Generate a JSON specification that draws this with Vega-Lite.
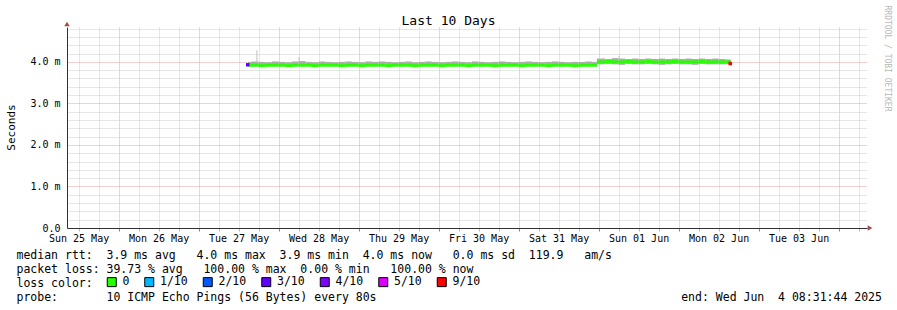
{
  "$schema": "https://vega.github.io/schema/vega-lite/v6.json",
  "width": 800,
  "height": 201,
  "autosize": {"type": "none"},
  "padding": {"left": 67, "top": 27, "right": 30, "bottom": 82},
  "background": "white",
  "config": {"view": {"stroke": null}},
  "datasets": {
    "rtt": [
      {"t": "2025-05-27T14:50:00Z", "t_end": "2025-05-27T16:00:00Z", "med": 3.92, "lo": 3.90, "hi": 4.00, "loss": "0"},
      {"t": "2025-05-27T16:00:00Z", "t_end": "2025-05-27T18:00:00Z", "med": 3.92, "lo": 3.90, "hi": 4.01, "loss": "0"},
      {"t": "2025-05-27T18:00:00Z", "t_end": "2025-05-27T20:00:00Z", "med": 3.91, "lo": 3.89, "hi": 4.00, "loss": "0"},
      {"t": "2025-05-27T20:00:00Z", "t_end": "2025-05-27T22:00:00Z", "med": 3.92, "lo": 3.90, "hi": 3.99, "loss": "0"},
      {"t": "2025-05-27T22:00:00Z", "t_end": "2025-05-28T00:00:00Z", "med": 3.92, "lo": 3.90, "hi": 4.01, "loss": "0"},
      {"t": "2025-05-28T00:00:00Z", "t_end": "2025-05-28T02:00:00Z", "med": 3.92, "lo": 3.90, "hi": 4.00, "loss": "0"},
      {"t": "2025-05-28T02:00:00Z", "t_end": "2025-05-28T04:00:00Z", "med": 3.91, "lo": 3.89, "hi": 3.99, "loss": "0"},
      {"t": "2025-05-28T04:00:00Z", "t_end": "2025-05-28T06:00:00Z", "med": 3.92, "lo": 3.90, "hi": 4.01, "loss": "0"},
      {"t": "2025-05-28T06:00:00Z", "t_end": "2025-05-28T08:00:00Z", "med": 3.92, "lo": 3.90, "hi": 4.02, "loss": "0"},
      {"t": "2025-05-28T08:00:00Z", "t_end": "2025-05-28T10:00:00Z", "med": 3.92, "lo": 3.90, "hi": 4.00, "loss": "0"},
      {"t": "2025-05-28T10:00:00Z", "t_end": "2025-05-28T12:00:00Z", "med": 3.91, "lo": 3.89, "hi": 3.99, "loss": "0"},
      {"t": "2025-05-28T12:00:00Z", "t_end": "2025-05-28T14:00:00Z", "med": 3.92, "lo": 3.90, "hi": 4.01, "loss": "0"},
      {"t": "2025-05-28T14:00:00Z", "t_end": "2025-05-28T16:00:00Z", "med": 3.92, "lo": 3.90, "hi": 4.00, "loss": "0"},
      {"t": "2025-05-28T16:00:00Z", "t_end": "2025-05-28T18:00:00Z", "med": 3.92, "lo": 3.90, "hi": 3.99, "loss": "0"},
      {"t": "2025-05-28T18:00:00Z", "t_end": "2025-05-28T20:00:00Z", "med": 3.91, "lo": 3.89, "hi": 4.00, "loss": "0"},
      {"t": "2025-05-28T20:00:00Z", "t_end": "2025-05-28T22:00:00Z", "med": 3.92, "lo": 3.90, "hi": 4.01, "loss": "0"},
      {"t": "2025-05-28T22:00:00Z", "t_end": "2025-05-29T00:00:00Z", "med": 3.92, "lo": 3.90, "hi": 4.00, "loss": "0"},
      {"t": "2025-05-29T00:00:00Z", "t_end": "2025-05-29T02:00:00Z", "med": 3.91, "lo": 3.89, "hi": 3.99, "loss": "0"},
      {"t": "2025-05-29T02:00:00Z", "t_end": "2025-05-29T04:00:00Z", "med": 3.92, "lo": 3.90, "hi": 4.01, "loss": "0"},
      {"t": "2025-05-29T04:00:00Z", "t_end": "2025-05-29T06:00:00Z", "med": 3.92, "lo": 3.90, "hi": 4.00, "loss": "0"},
      {"t": "2025-05-29T06:00:00Z", "t_end": "2025-05-29T08:00:00Z", "med": 3.92, "lo": 3.90, "hi": 4.01, "loss": "0"},
      {"t": "2025-05-29T08:00:00Z", "t_end": "2025-05-29T10:00:00Z", "med": 3.91, "lo": 3.89, "hi": 4.00, "loss": "0"},
      {"t": "2025-05-29T10:00:00Z", "t_end": "2025-05-29T12:00:00Z", "med": 3.92, "lo": 3.90, "hi": 3.99, "loss": "0"},
      {"t": "2025-05-29T12:00:00Z", "t_end": "2025-05-29T14:00:00Z", "med": 3.92, "lo": 3.90, "hi": 4.00, "loss": "0"},
      {"t": "2025-05-29T14:00:00Z", "t_end": "2025-05-29T16:00:00Z", "med": 3.92, "lo": 3.90, "hi": 4.01, "loss": "0"},
      {"t": "2025-05-29T16:00:00Z", "t_end": "2025-05-29T18:00:00Z", "med": 3.91, "lo": 3.89, "hi": 3.99, "loss": "0"},
      {"t": "2025-05-29T18:00:00Z", "t_end": "2025-05-29T20:00:00Z", "med": 3.92, "lo": 3.90, "hi": 4.00, "loss": "0"},
      {"t": "2025-05-29T20:00:00Z", "t_end": "2025-05-29T22:00:00Z", "med": 3.92, "lo": 3.90, "hi": 4.01, "loss": "0"},
      {"t": "2025-05-29T22:00:00Z", "t_end": "2025-05-30T00:00:00Z", "med": 3.92, "lo": 3.90, "hi": 4.00, "loss": "0"},
      {"t": "2025-05-30T00:00:00Z", "t_end": "2025-05-30T02:00:00Z", "med": 3.91, "lo": 3.89, "hi": 3.99, "loss": "0"},
      {"t": "2025-05-30T02:00:00Z", "t_end": "2025-05-30T04:00:00Z", "med": 3.92, "lo": 3.90, "hi": 4.00, "loss": "0"},
      {"t": "2025-05-30T04:00:00Z", "t_end": "2025-05-30T06:00:00Z", "med": 3.92, "lo": 3.90, "hi": 4.01, "loss": "0"},
      {"t": "2025-05-30T06:00:00Z", "t_end": "2025-05-30T08:00:00Z", "med": 3.92, "lo": 3.90, "hi": 4.00, "loss": "0"},
      {"t": "2025-05-30T08:00:00Z", "t_end": "2025-05-30T10:00:00Z", "med": 3.91, "lo": 3.89, "hi": 3.99, "loss": "0"},
      {"t": "2025-05-30T10:00:00Z", "t_end": "2025-05-30T12:00:00Z", "med": 3.92, "lo": 3.90, "hi": 4.01, "loss": "0"},
      {"t": "2025-05-30T12:00:00Z", "t_end": "2025-05-30T14:00:00Z", "med": 3.92, "lo": 3.90, "hi": 4.00, "loss": "0"},
      {"t": "2025-05-30T14:00:00Z", "t_end": "2025-05-30T16:00:00Z", "med": 3.92, "lo": 3.90, "hi": 3.99, "loss": "0"},
      {"t": "2025-05-30T16:00:00Z", "t_end": "2025-05-30T18:00:00Z", "med": 3.91, "lo": 3.89, "hi": 4.00, "loss": "0"},
      {"t": "2025-05-30T18:00:00Z", "t_end": "2025-05-30T20:00:00Z", "med": 3.92, "lo": 3.90, "hi": 4.01, "loss": "0"},
      {"t": "2025-05-30T20:00:00Z", "t_end": "2025-05-30T22:00:00Z", "med": 3.92, "lo": 3.90, "hi": 4.00, "loss": "0"},
      {"t": "2025-05-30T22:00:00Z", "t_end": "2025-05-31T00:00:00Z", "med": 3.92, "lo": 3.90, "hi": 3.99, "loss": "0"},
      {"t": "2025-05-31T00:00:00Z", "t_end": "2025-05-31T02:00:00Z", "med": 3.91, "lo": 3.89, "hi": 4.00, "loss": "0"},
      {"t": "2025-05-31T02:00:00Z", "t_end": "2025-05-31T04:00:00Z", "med": 3.92, "lo": 3.90, "hi": 4.01, "loss": "0"},
      {"t": "2025-05-31T04:00:00Z", "t_end": "2025-05-31T06:00:00Z", "med": 3.92, "lo": 3.90, "hi": 4.00, "loss": "0"},
      {"t": "2025-05-31T06:00:00Z", "t_end": "2025-05-31T08:00:00Z", "med": 3.92, "lo": 3.90, "hi": 3.99, "loss": "0"},
      {"t": "2025-05-31T08:00:00Z", "t_end": "2025-05-31T10:00:00Z", "med": 3.91, "lo": 3.89, "hi": 4.00, "loss": "0"},
      {"t": "2025-05-31T10:00:00Z", "t_end": "2025-05-31T12:00:00Z", "med": 3.92, "lo": 3.90, "hi": 4.01, "loss": "0"},
      {"t": "2025-05-31T12:00:00Z", "t_end": "2025-05-31T14:00:00Z", "med": 3.92, "lo": 3.90, "hi": 4.00, "loss": "0"},
      {"t": "2025-05-31T14:00:00Z", "t_end": "2025-05-31T16:00:00Z", "med": 3.92, "lo": 3.90, "hi": 3.99, "loss": "0"},
      {"t": "2025-05-31T16:00:00Z", "t_end": "2025-05-31T18:00:00Z", "med": 3.91, "lo": 3.89, "hi": 4.00, "loss": "0"},
      {"t": "2025-05-31T18:00:00Z", "t_end": "2025-05-31T20:00:00Z", "med": 3.92, "lo": 3.90, "hi": 4.00, "loss": "0"},
      {"t": "2025-05-31T20:00:00Z", "t_end": "2025-05-31T22:00:00Z", "med": 3.92, "lo": 3.90, "hi": 4.01, "loss": "0"},
      {"t": "2025-05-31T22:00:00Z", "t_end": "2025-05-31T23:30:00Z", "med": 3.92, "lo": 3.90, "hi": 4.00, "loss": "0"},
      {"t": "2025-05-31T23:30:00Z", "t_end": "2025-06-01T02:00:00Z", "med": 4.00, "lo": 3.94, "hi": 4.08, "loss": "0"},
      {"t": "2025-06-01T02:00:00Z", "t_end": "2025-06-01T04:00:00Z", "med": 4.01, "lo": 3.95, "hi": 4.07, "loss": "0"},
      {"t": "2025-06-01T04:00:00Z", "t_end": "2025-06-01T06:00:00Z", "med": 4.00, "lo": 3.94, "hi": 4.09, "loss": "0"},
      {"t": "2025-06-01T06:00:00Z", "t_end": "2025-06-01T08:00:00Z", "med": 4.00, "lo": 3.93, "hi": 4.08, "loss": "0"},
      {"t": "2025-06-01T08:00:00Z", "t_end": "2025-06-01T10:00:00Z", "med": 4.01, "lo": 3.95, "hi": 4.07, "loss": "0"},
      {"t": "2025-06-01T10:00:00Z", "t_end": "2025-06-01T12:00:00Z", "med": 4.00, "lo": 3.94, "hi": 4.08, "loss": "0"},
      {"t": "2025-06-01T12:00:00Z", "t_end": "2025-06-01T14:00:00Z", "med": 4.00, "lo": 3.94, "hi": 4.07, "loss": "0"},
      {"t": "2025-06-01T14:00:00Z", "t_end": "2025-06-01T16:00:00Z", "med": 4.01, "lo": 3.95, "hi": 4.08, "loss": "0"},
      {"t": "2025-06-01T16:00:00Z", "t_end": "2025-06-01T18:00:00Z", "med": 4.00, "lo": 3.94, "hi": 4.07, "loss": "0"},
      {"t": "2025-06-01T18:00:00Z", "t_end": "2025-06-01T20:00:00Z", "med": 4.00, "lo": 3.93, "hi": 4.08, "loss": "0"},
      {"t": "2025-06-01T20:00:00Z", "t_end": "2025-06-01T22:00:00Z", "med": 4.00, "lo": 3.94, "hi": 4.07, "loss": "0"},
      {"t": "2025-06-01T22:00:00Z", "t_end": "2025-06-02T00:00:00Z", "med": 4.01, "lo": 3.95, "hi": 4.08, "loss": "0"},
      {"t": "2025-06-02T00:00:00Z", "t_end": "2025-06-02T02:00:00Z", "med": 4.00, "lo": 3.94, "hi": 4.07, "loss": "0"},
      {"t": "2025-06-02T02:00:00Z", "t_end": "2025-06-02T04:00:00Z", "med": 4.00, "lo": 3.94, "hi": 4.08, "loss": "0"},
      {"t": "2025-06-02T04:00:00Z", "t_end": "2025-06-02T06:00:00Z", "med": 4.00, "lo": 3.93, "hi": 4.07, "loss": "0"},
      {"t": "2025-06-02T06:00:00Z", "t_end": "2025-06-02T08:00:00Z", "med": 4.01, "lo": 3.95, "hi": 4.08, "loss": "0"},
      {"t": "2025-06-02T08:00:00Z", "t_end": "2025-06-02T10:00:00Z", "med": 4.00, "lo": 3.94, "hi": 4.07, "loss": "0"},
      {"t": "2025-06-02T10:00:00Z", "t_end": "2025-06-02T12:00:00Z", "med": 4.00, "lo": 3.94, "hi": 4.08, "loss": "0"},
      {"t": "2025-06-02T12:00:00Z", "t_end": "2025-06-02T14:00:00Z", "med": 4.00, "lo": 3.94, "hi": 4.07, "loss": "0"},
      {"t": "2025-06-02T14:00:00Z", "t_end": "2025-06-02T15:40:00Z", "med": 4.00, "lo": 3.94, "hi": 4.06, "loss": "0"}
    ],
    "spikes": [
      {"t": "2025-05-27T17:30:00Z", "lo": 3.99, "hi": 4.28},
      {"t": "2025-05-28T06:10:00Z", "lo": 3.99, "hi": 4.12},
      {"t": "2025-06-01T01:20:00Z", "lo": 4.05, "hi": 4.10},
      {"t": "2025-06-01T06:10:00Z", "lo": 4.06, "hi": 4.14}
    ],
    "lossmarks": [
      {"t": "2025-05-27T14:45:00Z", "med": 3.93, "loss": "3/10"},
      {"t": "2025-06-02T15:30:00Z", "med": 3.96, "loss": "9/10"}
    ],
    "arrows": [
      {"t": "2025-05-25T08:31:44Z", "v": 4.84, "dir": "up"},
      {"t": "2025-06-04T08:31:44Z", "v": 0, "dir": "right"}
    ]
  },
  "resolve": {"axis": {"x": "independent", "y": "independent"}},
  "layer": [
    {
      "data": {"name": "rtt"},
      "mark": {"type": "rect", "color": "#ababab"},
      "encoding": {
        "x": {
          "field": "t", "type": "temporal",
          "scale": {"type": "utc", "domain": [1748161904000, 1749025904000]},
          "axis": {
            "orient": "bottom",
            "values": [1748174400000, 1748196000000, 1748217600000, 1748239200000, 1748260800000, 1748282400000, 1748304000000, 1748325600000, 1748347200000, 1748368800000, 1748390400000, 1748412000000, 1748433600000, 1748455200000, 1748476800000, 1748498400000, 1748520000000, 1748541600000, 1748563200000, 1748584800000, 1748606400000, 1748628000000, 1748649600000, 1748671200000, 1748692800000, 1748714400000, 1748736000000, 1748757600000, 1748779200000, 1748800800000, 1748822400000, 1748844000000, 1748865600000, 1748887200000, 1748908800000, 1748930400000, 1748952000000, 1748973600000, 1748995200000, 1749016800000],
            "labelExpr": "utchours(datum.value) == 12 ? utcFormat(datum.value, '%a %d %b') : ''",
            "labelFont": "DejaVu Sans Mono", "labelFontSize": 10, "labelColor": "black",
            "labelPadding": 2, "labelOverlap": false, "labelFlush": false, "labelBound": false,
            "tickSize": 3,
            "tickColor": {"condition": {"test": "utchours(datum.value) == 0", "value": "#e06060"}, "value": "#b8b8b8"},
            "grid": true,
            "gridColor": {"condition": {"test": "utchours(datum.value) == 0", "value": "#eaa0a0"}, "value": "#cccccc"},
            "gridDash": [1, 1],
            "domainColor": "#333333",
            "title": [
              "median rtt:\u00a0\u00a03.9 ms avg\u00a0\u00a0\u00a04.0 ms max\u00a0\u00a03.9 ms min\u00a0\u00a04.0 ms now\u00a0\u00a0\u00a00.0 ms sd\u00a0\u00a0119.9\u00a0\u00a0\u00a0am/s",
              "packet loss: 39.73 % avg\u00a0\u00a0\u00a0100.00 % max\u00a0\u00a00.00 % min\u00a0\u00a0\u00a0100.00 % now",
              "loss color:",
              "probe:\u00a0\u00a0\u00a0\u00a0\u00a0\u00a0\u00a010 ICMP Echo Pings (56 Bytes) every 80s\u00a0\u00a0\u00a0\u00a0\u00a0\u00a0\u00a0\u00a0\u00a0\u00a0\u00a0\u00a0\u00a0\u00a0\u00a0\u00a0\u00a0\u00a0\u00a0\u00a0\u00a0\u00a0\u00a0\u00a0\u00a0\u00a0\u00a0\u00a0\u00a0\u00a0\u00a0\u00a0\u00a0\u00a0\u00a0\u00a0\u00a0\u00a0\u00a0\u00a0\u00a0\u00a0\u00a0\u00a0end: Wed Jun\u00a0\u00a04 08:31:44 2025"
            ],
            "titleFont": "DejaVu Sans Mono", "titleFontSize": 11.5, "titleFontWeight": "normal", "titleColor": "black",
            "titleX": -51, "titleY": 30, "titleAlign": "left", "titleBaseline": "alphabetic", "titleAngle": 0, "titleLineHeight": 14
          }
        },
        "x2": {"field": "t_end"},
        "y": {
          "field": "lo", "type": "quantitative",
          "scale": {"domain": [0, 4.84], "nice": false, "zero": false},
          "axis": {
            "values": [0, 0.2, 0.4, 0.6, 0.8, 1, 1.2, 1.4, 1.6, 1.8, 2, 2.2, 2.4, 2.6, 2.8, 3, 3.2, 3.4, 3.6, 3.8, 4, 4.2, 4.4, 4.6, 4.8],
            "labelExpr": "datum.value == 0 ? '0.0' : (abs(datum.value - round(datum.value)) < 0.001 ? format(datum.value, '.1f') + ' m' : '')",
            "labelFont": "DejaVu Sans Mono", "labelFontSize": 10, "labelColor": "black",
            "labelPadding": 7, "labelOverlap": false, "labelBound": false,
            "ticks": false,
            "grid": true,
            "gridColor": {"condition": {"test": "abs(datum.value - round(datum.value)) < 0.001", "value": "#eaa0a0"}, "value": "#cccccc"},
            "gridDash": [1, 1],
            "domainColor": "#333333",
            "title": "Seconds",
            "titleFont": "DejaVu Sans Mono", "titleFontSize": 11, "titleFontWeight": "normal", "titleColor": "black",
            "titleX": -56, "titleY": 100, "titleAngle": 270, "titleAlign": "center", "titleBaseline": "middle"
          }
        },
        "y2": {"field": "hi"}
      }
    },
    {
      "data": {"name": "spikes"},
      "mark": {"type": "rule", "color": "#c0c0c0", "strokeWidth": 1},
      "encoding": {
        "x": {
          "field": "t", "type": "temporal",
          "scale": {"type": "utc", "domain": [1748161904000, 1749025904000]},
          "axis": {
            "orient": "top", "labels": false, "ticks": false, "domain": false, "grid": false,
            "title": "Last 10 Days",
            "titleFont": "DejaVu Sans Mono", "titleFontSize": 13, "titleFontWeight": "normal", "titleColor": "black",
            "titleX": 381, "titleY": -3, "titleAlign": "center", "titleBaseline": "alphabetic", "titleAngle": 0
          }
        },
        "y": {
          "field": "lo", "type": "quantitative",
          "scale": {"domain": [0, 4.84], "nice": false, "zero": false},
          "axis": {
            "orient": "right", "labels": false, "ticks": false, "domain": false, "grid": false,
            "title": "RRDTOOL / TOBI OETIKER",
            "titleFont": "DejaVu Sans Mono", "titleFontSize": 8, "titleFontWeight": "normal", "titleColor": "#b8b8b8",
            "titleX": 19, "titleY": -22, "titleAlign": "left", "titleBaseline": "middle", "titleAngle": 90
          }
        },
        "y2": {"field": "hi"}
      }
    },
    {
      "data": {"name": "rtt"},
      "mark": {"type": "rule", "strokeWidth": 3, "strokeCap": "butt"},
      "encoding": {
        "x": {"field": "t", "type": "temporal", "axis": null},
        "x2": {"field": "t_end"},
        "y": {"field": "med", "type": "quantitative", "axis": null},
        "stroke": {
          "field": "loss", "type": "nominal",
          "scale": {"domain": ["0", "3/10", "9/10"], "range": ["#26ff00", "#5e00ff", "#ff0000"]},
          "legend": null
        }
      }
    },
    {
      "data": {"name": "lossmarks"},
      "mark": {"type": "square", "size": 12, "opacity": 1},
      "encoding": {
        "x": {"field": "t", "type": "temporal", "axis": null},
        "y": {"field": "med", "type": "quantitative", "axis": null},
        "fill": {
          "field": "loss", "type": "nominal",
          "scale": {"domain": ["0", "1/10", "2/10", "3/10", "4/10", "5/10", "9/10"], "range": ["#26ff00", "#00b8ff", "#0059ff", "#5e00ff", "#7e00ff", "#dd00ff", "#ff0000"]},
          "legend": {
            "orient": "none", "legendX": 39, "legendY": 249, "direction": "horizontal",
            "title": null, "padding": 0,
            "symbolType": "square", "symbolSize": 81, "symbolStrokeColor": "black", "symbolStrokeWidth": 1, "symbolOpacity": 1,
            "labelFont": "DejaVu Sans Mono", "labelFontSize": 11.5, "labelColor": "black",
            "labelOffset": 5, "columnPadding": 12.5
          }
        }
      }
    },
    {
      "data": {"name": "arrows"},
      "transform": [{"filter": "datum.dir == 'up'"}],
      "mark": {"type": "point", "shape": "triangle-up", "filled": true, "size": 30, "color": "#7f0000", "yOffset": -3, "clip": false},
      "encoding": {
        "x": {"field": "t", "type": "temporal", "axis": null},
        "y": {"field": "v", "type": "quantitative", "axis": null}
      }
    },
    {
      "data": {"name": "arrows"},
      "transform": [{"filter": "datum.dir == 'right'"}],
      "mark": {"type": "point", "shape": "triangle-right", "filled": true, "size": 30, "color": "#7f0000", "xOffset": 3, "clip": false},
      "encoding": {
        "x": {"field": "t", "type": "temporal", "axis": null},
        "y": {"field": "v", "type": "quantitative", "axis": null}
      }
    }
  ]
}
